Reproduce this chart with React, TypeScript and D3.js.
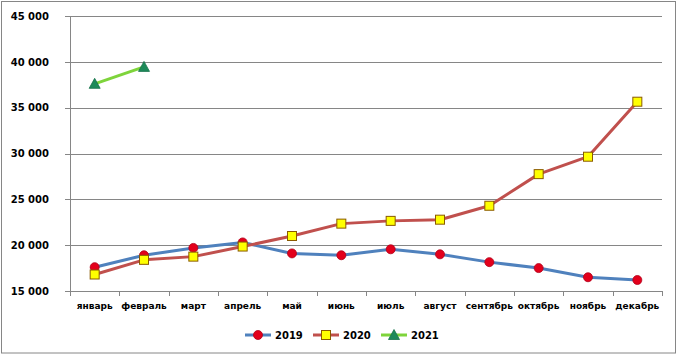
import React from "react";
import * as d3 from "d3";

const categories = ["январь", "февраль", "март", "апрель", "май", "июнь", "июль", "август", "сентябрь", "октябрь", "ноябрь", "декабрь"];
const series2019 = [17600, 18900, 19700, 20300, 19100, 18900, 19550, 19000, 18150, 17500, 16500, 16200];
const series2020 = [16800, 18400, 18750, 19850, 21000, 22350, 22650, 22780, 24300, 27750, 29650, 35650];
const series2021 = [37600, 39450];
const yTicks = [15000, 20000, 25000, 30000, 35000, 40000, 45000];
const seriesNames = ["2019", "2020", "2021"];

const W = 678;
const H = 355;
const FONT = "'DejaVu Sans', sans-serif";
const AXIS = "#868686";

export default function App() {
  const x = d3.scaleBand<string>().domain(categories).range([70, 662]);
  const y = d3.scaleLinear().domain([15000, 45000]).range([291, 16]);
  const cx = (c: string) => (x(c) as number) + x.bandwidth() / 2;
  const line = d3
    .line<number>()
    .x((_, i) => cx(categories[i]))
    .y((d) => y(d));
  const fmt = (v: number) => d3.format(",")(v).replace(/,/g, " ");
  const bounds = [...categories.map((c) => x(c) as number), 662];

  const circle = (px: number, py: number, k: string) => (
    <circle key={k} cx={px} cy={py} r={4.5} fill="#E3001B" stroke="#B0001A" strokeWidth={0.8} />
  );
  const square = (px: number, py: number, k: string) => (
    <rect key={k} x={px - 4.5} y={py - 4.5} width={9} height={9} fill="#FFFF00" stroke="#8A5A00" strokeWidth={1} />
  );
  const tri = (px: number, py: number, k: string) => (
    <path key={k} d={`M${px},${py - 5.5}L${px + 5.5},${py + 4.5}L${px - 5.5},${py + 4.5}Z`} fill="#1D8A5A" stroke="#17724A" strokeWidth={0.8} />
  );

  const legend = [
    { name: seriesNames[0], color: "#4F81BD", marker: circle, x0: 245 },
    { name: seriesNames[1], color: "#C0504D", marker: square, x0: 313 },
    { name: seriesNames[2], color: "#7ED43B", marker: tri, x0: 381 },
  ];

  return (
    <svg width={W} height={H} style={{ position: "fixed", left: 0, top: 0, background: "#fff" }} fontFamily={FONT}>
      <rect x={1.5} y={1.5} width={674} height={351.5} fill="#fff" stroke={AXIS} strokeWidth={1} />
      {yTicks.map((t) => (
        <g key={t}>
          <line x1={65} x2={662} y1={Math.round(y(t)) + 0.5} y2={Math.round(y(t)) + 0.5} stroke={AXIS} strokeWidth={1} />
          <text x={49} y={y(t) + 3.8} textAnchor="end" fontSize={10} fontWeight="bold" fill="#000">
            {fmt(t)}
          </text>
        </g>
      ))}
      <line x1={70.5} x2={70.5} y1={16} y2={291} stroke={AXIS} strokeWidth={1} />
      {bounds.map((b, i) => (
        <line key={i} x1={Math.round(b) + 0.5} x2={Math.round(b) + 0.5} y1={291} y2={296} stroke={AXIS} strokeWidth={1} />
      ))}
      {categories.map((c) => (
        <text key={c} x={cx(c)} y={309} textAnchor="middle" fontSize={9} fontWeight="bold" fill="#000">
          {c}
        </text>
      ))}
      <path d={line(series2019) || ""} fill="none" stroke="#4F81BD" strokeWidth={3} strokeLinejoin="round" />
      <path d={line(series2020) || ""} fill="none" stroke="#C0504D" strokeWidth={3} strokeLinejoin="round" />
      <path d={line(series2021) || ""} fill="none" stroke="#7ED43B" strokeWidth={3} strokeLinejoin="round" />
      {series2019.map((v, i) => circle(cx(categories[i]), y(v), "a" + i))}
      {series2020.map((v, i) => square(cx(categories[i]), y(v), "b" + i))}
      {series2021.map((v, i) => tri(cx(categories[i]), y(v), "c" + i))}
      {legend.map((l) => (
        <g key={l.name}>
          <line x1={l.x0} x2={l.x0 + 26} y1={335} y2={335} stroke={l.color} strokeWidth={3} />
          {l.marker(l.x0 + 13, 335, "m" + l.name)}
          <text x={l.x0 + 30} y={339} fontSize={10} fontWeight="bold" fill="#000">
            {l.name}
          </text>
        </g>
      ))}
    </svg>
  );
}
